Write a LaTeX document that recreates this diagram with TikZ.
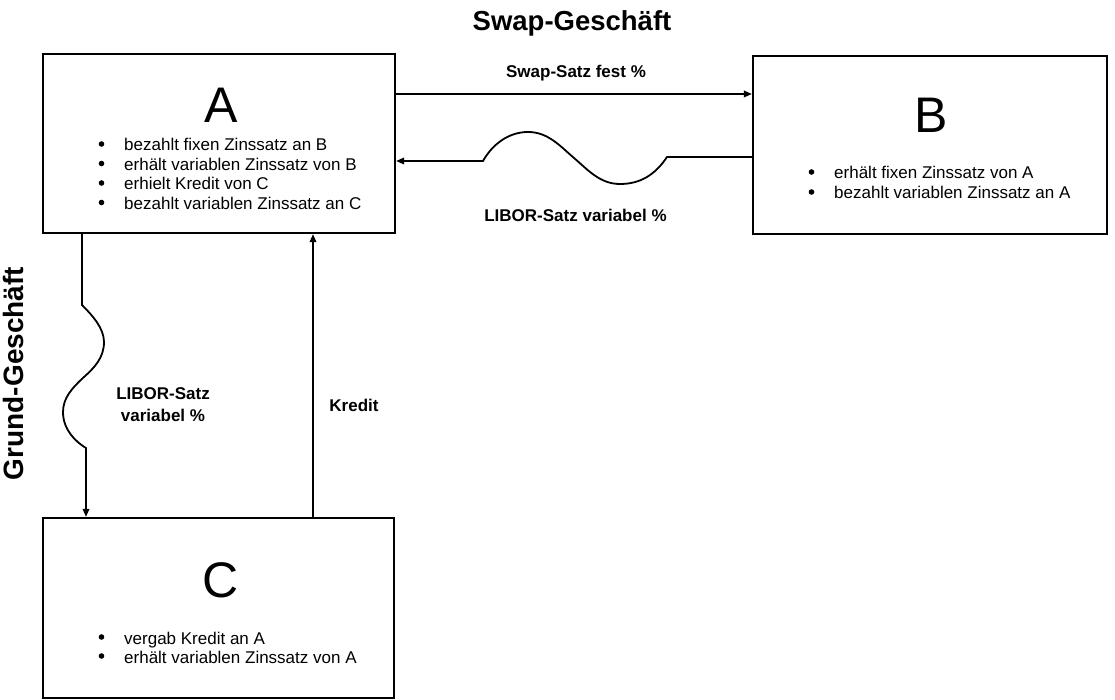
\documentclass[tikz,border=0pt]{standalone}
\usepackage{fontspec}
\setmainfont{Liberation Sans}
\usetikzlibrary{arrows.meta}
\begin{document}
\begin{tikzpicture}[x=1pt,y=-1pt,
  box/.style={draw, line width=2.2pt, inner sep=0pt},
  big/.style={anchor=base, inner sep=0pt, font=\fontsize{50}{50}\selectfont},
  itemtxt/.style={anchor=base west, inner sep=0pt, font=\fontsize{17}{19.5}\selectfont},
  dot/.style={fill=black},
  lbl/.style={inner sep=0pt, font=\bfseries\fontsize{17}{22}\selectfont, align=center},
  heading/.style={anchor=base, inner sep=0pt, font=\bfseries\fontsize{27.5}{30}\selectfont},
  conn/.style={line width=1.8pt, -{Triangle[length=8pt,width=6.5pt]}}
]
\useasboundingbox (0,0) rectangle (1115,700);

% boxes
\node[box, minimum width=352pt, minimum height=179pt] (A) at (219,143.5) {};
\node[box, minimum width=354pt, minimum height=178pt] (B) at (930,145) {};
\node[box, minimum width=351pt, minimum height=180pt] (C) at (218.5,608) {};

% box contents
\node[big] (Aname) at (221,123) {A};
\node[itemtxt] (A1) at (124,151) {bezahlt fixen Zinssatz an B};
\node[itemtxt] (A2) at (124,170.5) {erhält variablen Zinssatz von B};
\node[itemtxt] (A3) at (124,190) {erhielt Kredit von C};
\node[itemtxt] (A4) at (124,209.5) {bezahlt variablen Zinssatz an C};
\foreach \yy in {151,170.5,190,209.5} \fill[dot] (101.5,\yy-7) circle (2.8pt);

\node[big] (Bname) at (931,133) {B};
\node[itemtxt] (B1) at (834,179) {erhält fixen Zinssatz von A};
\node[itemtxt] (B2) at (834,199) {bezahlt variablen Zinssatz an A};
\foreach \yy in {179,199} \fill[dot] (811.5,\yy-7) circle (2.8pt);

\node[big] (Cname) at (221,597.5) {C};
\node[itemtxt] (C1) at (124,644) {vergab Kredit an A};
\node[itemtxt] (C2) at (124,663) {erhält variablen Zinssatz von A};
\foreach \yy in {644,663} \fill[dot] (101.5,\yy-7) circle (2.8pt);

% headings
\node[heading] (title) at (572,31) {Swap-Geschäft};
\node[heading, rotate=90, font=\bfseries\fontsize{28}{30}\selectfont] (grund) at (23,373.5) {Grund-Geschäft};

% helper coordinates
\coordinate (s1) at (0,94);
\coordinate (w1) at (0,157);
\coordinate (w2) at (0,161);
\coordinate (v1) at (82,0);
\coordinate (v2) at (86,0);
\coordinate (k) at (313,0);

% connectors
\draw[conn] (A.east |- s1) -- (B.west |- s1);
\draw[conn] (B.west |- w1) -- (667,157)
  .. controls (655,175) and (640,184) .. (620,184)
  .. controls (600,184) and (588,170) .. (574,158)
  .. controls (560,146) and (548,132) .. (528,132)
  .. controls (508,132) and (492,145) .. (483,161)
  -- (A.east |- w2);
\draw[conn] (A.south -| v1) -- (82,305)
  .. controls (92,315) and (104,328) .. (104,342)
  .. controls (104,358) and (94,368) .. (84,377)
  .. controls (72,388) and (63,398) .. (63,412)
  .. controls (63,430) and (76,442) .. (86,448)
  -- (C.north -| v2);
\draw[conn] (C.north -| k) -- (A.south -| k);

% connector labels
\node[lbl, anchor=base] (lswap) at (576,78) {Swap-Satz fest \%};
\node[lbl, anchor=base] (llibor) at (575.5,222) {LIBOR-Satz variabel \%};
\node[lbl] (llibor2) at (163,405) {LIBOR-Satz\\variabel \%};
\node[lbl] (lkredit) at (354,405) {Kredit};
\end{tikzpicture}
\end{document}
